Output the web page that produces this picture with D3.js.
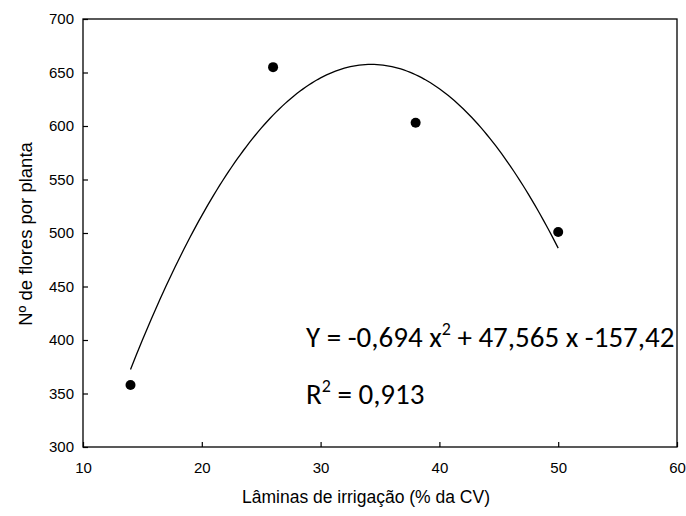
<!DOCTYPE html>
<html>
<head>
<meta charset="utf-8">
<script src="https://cdn.jsdelivr.net/npm/d3@7"></script>
<style>
body { margin: 0; background: #fff; }
text { font-family: "Liberation Sans", Arial, sans-serif; }
</style>
</head>
<body>
<div id="chart"></div>
<script>
// data
var laminas = [14, 26, 38, 50];
var flores = [358, 655, 603, 501];
// fitted quadratic: Y = a x^2 + b x + c
var coefA = -0.694, coefB = 47.565, coefC = -157.42;
var xTicks = [10, 20, 30, 40, 50, 60];
var yTicks = [300, 350, 400, 450, 500, 550, 600, 650, 700];

var width = 686, height = 516;
var padL = 83, padR = 677, padT = 19, padB = 447;

var svg = d3.select("#chart").append("svg").attr("width", width).attr("height", height);

var x = d3.scaleLinear().domain([10, 60]).range([padL, padR]);
var y = d3.scaleLinear().domain([300, 700]).range([padB, padT]);

// frame
svg.append("rect")
    .attr("x", padL).attr("y", padT)
    .attr("width", padR - padL).attr("height", padB - padT)
    .attr("fill", "none").attr("stroke", "#000").attr("stroke-width", 1.3);

// axes, ticks pointing inward
var xA = d3.axisBottom(x).tickValues(xTicks).tickSizeInner(-5).tickSizeOuter(0).tickPadding(15);
var yA = d3.axisLeft(y).tickValues(yTicks).tickSizeInner(-5).tickSizeOuter(0).tickPadding(9);

var gx = svg.append("g").attr("transform", "translate(0," + padB + ")").call(xA);
var gy = svg.append("g").attr("transform", "translate(" + padL + ",0)").call(yA);
[gx, gy].forEach(function(g){
    g.select(".domain").remove();
    g.selectAll("line").attr("stroke", "#000").attr("stroke-width", 1.2);
    g.selectAll("text").attr("font-size", 15).attr("fill", "#000")
        .style("font-family", "'Liberation Sans', Arial, sans-serif");
});

// fitted curve
var curvePts = d3.range(14, 50.01, 0.25).map(function(v){
    return [v, coefA * v * v + coefB * v + coefC];
});
var line = d3.line().x(function(d){ return x(d[0]); }).y(function(d){ return y(d[1]); });
svg.append("path").datum(curvePts)
    .attr("d", line).attr("fill", "none").attr("stroke", "#000").attr("stroke-width", 1.3);

// points
svg.selectAll("circle.pt")
    .data(laminas)
    .enter().append("circle")
    .attr("class", "pt")
    .attr("cx", function(d){ return x(d); })
    .attr("cy", function(d, i){ return y(flores[i]); })
    .attr("r", 5)
    .attr("fill", "#000");

// axis titles
svg.append("text")
    .attr("x", 366).attr("y", 503)
    .attr("text-anchor", "middle").attr("font-size", 17.5)
    .text("Lâminas de irrigação (% da CV)");
svg.append("text")
    .attr("transform", "translate(32," + 234 + ") rotate(-90)")
    .attr("text-anchor", "middle").attr("font-size", 18.5)
    .text("Nº de flores por planta");

// equation
var eq = svg.append("text").attr("x", 306).attr("y", 347)
    .attr("font-size", 29).style("font-family", "Carlito, 'Open Sans', sans-serif");
eq.append("tspan").text("Y = -0,694 x");
eq.append("tspan").attr("dy", -12).attr("font-size", 18).text("2");
eq.append("tspan").attr("dy", 12).text(" + 47,565 x -157,42");

var r2 = svg.append("text").attr("x", 306).attr("y", 404)
    .attr("font-size", 29).style("font-family", "Carlito, 'Open Sans', sans-serif");
r2.append("tspan").text("R");
r2.append("tspan").attr("dy", -12).attr("font-size", 18).text("2");
r2.append("tspan").attr("dy", 12).text(" = 0,913");
</script>
</body>
</html>
